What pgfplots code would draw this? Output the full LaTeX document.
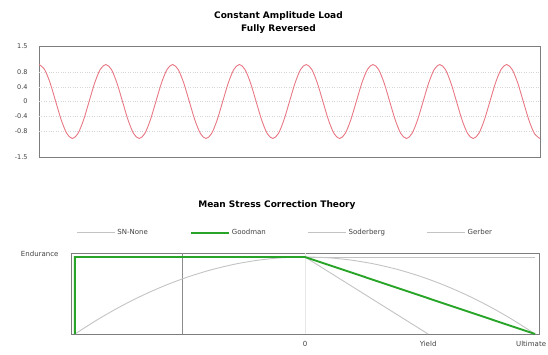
\documentclass[border=0pt]{standalone}
\usepackage{fontspec}
\setmainfont{DejaVu Sans}
\usepackage{pgfplots}
\pgfplotsset{compat=1.18}
\definecolor{sinered}{RGB}{232,120,132}
\definecolor{gdgreen}{RGB}{40,165,40}
\definecolor{lgray}{RGB}{195,195,195}
\definecolor{boxgray}{RGB}{125,125,125}
\begin{document}
\begin{tikzpicture}
\path[use as bounding box] (0pt,0pt) rectangle (548pt,354pt);
% ---------- top chart ----------
\begin{axis}[
  at={(39pt,197pt)}, anchor=south west,
  scale only axis, width=501pt, height=111pt,
  xmin=0, xmax=2700, ymin=-1.5, ymax=1.5,
  axis line style={draw=boxgray, line width=1pt},
  xtick=\empty,
  ytick={-1.5,-0.8,-0.4,0,0.4,0.8,1.5},
  yticklabels={-1.5,-0.8,-0.4,0,0.4,0.8,1.5},
  major tick length=0pt,
  /pgf/number format/assume math mode=true,
  tick label style={font=\fontsize{6.5}{7}\selectfont, text=black!75},
  yticklabel style={xshift=-8pt},
  title={\textbf{Constant Amplitude Load}\\\textbf{Fully Reversed}},
  title style={font=\fontsize{9}{13}\selectfont, align=center, at={(0.478,1)}, yshift=3pt},
]
\addplot[lgray!70, dotted, thin, forget plot] coordinates {(0,0.8) (2700,0.8)};
\addplot[lgray!70, dotted, thin, forget plot] coordinates {(0,0.4) (2700,0.4)};
\addplot[lgray!70, dotted, thin, forget plot] coordinates {(0,0) (2700,0)};
\addplot[lgray!70, dotted, thin, forget plot] coordinates {(0,-0.4) (2700,-0.4)};
\addplot[lgray!70, dotted, thin, forget plot] coordinates {(0,-0.8) (2700,-0.8)};
\addplot[sinered, line width=0.9pt, smooth] coordinates {
(0,1) (30,0.866) (60,0.5) (90,0) (120,-0.5) (150,-0.866) (180,-1) (210,-0.866) (240,-0.5) (270,0) (300,0.5) (330,0.866)
(360,1) (390,0.866) (420,0.5) (450,0) (480,-0.5) (510,-0.866) (540,-1) (570,-0.866) (600,-0.5) (630,0) (660,0.5) (690,0.866)
(720,1) (750,0.866) (780,0.5) (810,0) (840,-0.5) (870,-0.866) (900,-1) (930,-0.866) (960,-0.5) (990,0) (1020,0.5) (1050,0.866)
(1080,1) (1110,0.866) (1140,0.5) (1170,0) (1200,-0.5) (1230,-0.866) (1260,-1) (1290,-0.866) (1320,-0.5) (1350,0) (1380,0.5) (1410,0.866)
(1440,1) (1470,0.866) (1500,0.5) (1530,0) (1560,-0.5) (1590,-0.866) (1620,-1) (1650,-0.866) (1680,-0.5) (1710,0) (1740,0.5) (1770,0.866)
(1800,1) (1830,0.866) (1860,0.5) (1890,0) (1920,-0.5) (1950,-0.866) (1980,-1) (2010,-0.866) (2040,-0.5) (2070,0) (2100,0.5) (2130,0.866)
(2160,1) (2190,0.866) (2220,0.5) (2250,0) (2280,-0.5) (2310,-0.866) (2340,-1) (2370,-0.866) (2400,-0.5) (2430,0) (2460,0.5) (2490,0.866)
(2520,1) (2550,0.866) (2580,0.5) (2610,0) (2640,-0.5) (2670,-0.866) (2700,-1)
};
\end{axis}
% ---------- bottom chart ----------
\begin{axis}[
  at={(71pt,20pt)}, anchor=south west,
  scale only axis, width=468pt, height=81pt,
  xmin=-1.017, xmax=1.017, ymin=0, ymax=1.052,
  axis line style={draw=boxgray, line width=1pt},
  xtick={0,0.535}, xticklabels={0,Yield},
  extra x ticks={1}, extra x tick labels={Ultimate},
  extra x tick style={xticklabel style={xshift=-4pt}},
  ytick={1}, yticklabels={Endurance},
  major tick length=0pt,
  tick label style={font=\fontsize{7}{8}\selectfont, text=black!75},
  yticklabel style={xshift=-9pt, yshift=3pt},
  xticklabel style={yshift=-4pt},
  title={\textbf{Mean Stress Correction Theory}},
  title style={font=\fontsize{9}{10}\selectfont, at={(0.44,1)}, yshift=34pt},
  legend columns=4,
  legend style={draw=none, fill=none, at={(0.458,1.25)}, anchor=center,
    font=\fontsize{7}{8}\selectfont, text=black!75,
    /tikz/every even column/.append style={column sep=40pt}},
  legend image code/.code={\draw[#1] (0pt,0pt) -- (38pt,0pt);},
]
\addplot[lgray!40, line width=0.6pt, forget plot] coordinates {(0,0) (0,1.052)};
\addplot[lgray, line width=0.8pt, forget plot] coordinates {(-1,1) (1,1)};
\addplot[black!45, line width=0.8pt, forget plot] coordinates {(-0.535,0) (-0.535,1.052)};
\addplot[lgray, line width=0.9pt, smooth, forget plot] coordinates {
(-1,0) (-0.9,0.19) (-0.8,0.36) (-0.7,0.51) (-0.6,0.64) (-0.5,0.75) (-0.4,0.84) (-0.3,0.91) (-0.2,0.96) (-0.1,0.99)
(0,1) (0.1,0.99) (0.2,0.96) (0.3,0.91) (0.4,0.84) (0.5,0.75) (0.6,0.64) (0.7,0.51) (0.8,0.36) (0.9,0.19) (1,0)};
\addplot[lgray, line width=0.9pt, forget plot] coordinates {(0,1) (0.535,0)};
\addplot[gdgreen, line width=1.9pt, forget plot] coordinates {(-1,0) (-1,1) (0,1) (1,0)};
\addlegendimage{lgray, line width=0.8pt}
\addlegendentry{SN-None}
\addlegendimage{gdgreen, line width=1.9pt}
\addlegendentry{Goodman}
\addlegendimage{lgray, line width=0.8pt}
\addlegendentry{Soderberg}
\addlegendimage{lgray, line width=0.8pt}
\addlegendentry{Gerber}
\end{axis}
\end{tikzpicture}
\end{document}
